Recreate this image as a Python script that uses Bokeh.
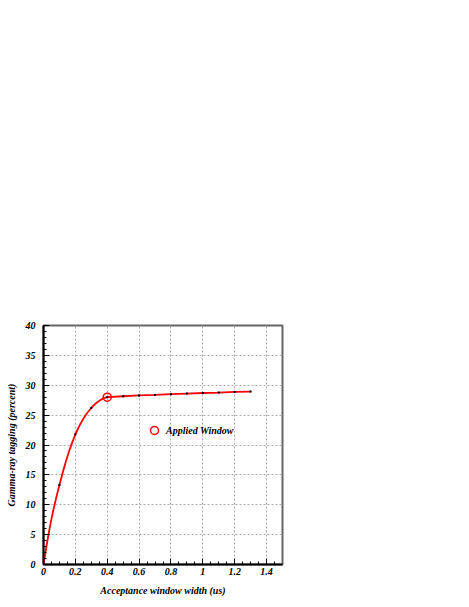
from bokeh.plotting import figure
from bokeh.models import Range1d, SingleIntervalTicker, CustomJSTickFormatter, Legend, LegendItem
from bokeh.embed import file_html
from bokeh.resources import INLINE

# Smooth curve
curve_x = [0.0, 0.02, 0.04, 0.06, 0.08, 0.1, 0.12, 0.14, 0.16, 0.18, 0.2, 0.225, 0.25, 0.275,
           0.3, 0.325, 0.35, 0.375, 0.4,
           0.5, 0.6, 0.7, 0.8, 0.9, 1.0, 1.1, 1.2, 1.3]
curve_y = [0.0, 3.3, 6.3, 8.9, 11.2, 13.3, 15.3, 17.2, 18.9, 20.4, 21.8, 23.2, 24.4, 25.4,
           26.2, 26.9, 27.4, 27.8, 28.0,
           28.16, 28.3, 28.38, 28.5, 28.6, 28.7, 28.77, 28.88, 28.94]

# Measured points
point_x = [0.1, 0.2, 0.3, 0.4, 0.5, 0.6, 0.7, 0.8, 0.9, 1.0, 1.1, 1.2, 1.3]
point_y = [13.3, 21.8, 26.2, 28.0, 28.16, 28.3, 28.38, 28.5, 28.6, 28.7, 28.77, 28.88, 28.94]

# Applied window
applied_x = [0.4]
applied_y = [28.0]
legend_label = "Applied Window"

x_label = "Acceptance window width (us)"
y_label = "Gamma-ray tagging (percent)"

FONT = "Liberation Serif"

p = figure(output_backend="svg", toolbar_location=None,
           x_range=Range1d(0, 1.5), y_range=Range1d(0, 40),
           frame_width=239, frame_height=239,
           min_border_left=43, min_border_top=325, min_border_right=15, min_border_bottom=36,
           background_fill_color="white", border_fill_color="white")

p.outline_line_color = "#666666"
p.outline_line_width = 2

# axes
p.xaxis.ticker = SingleIntervalTicker(interval=0.2, num_minor_ticks=4)
p.yaxis.ticker = SingleIntervalTicker(interval=5, num_minor_ticks=5)
p.xaxis.formatter = CustomJSTickFormatter(code="return String(Math.round(tick*10)/10);")

for ax in (p.xaxis[0], p.yaxis[0]):
    ax.axis_line_color = "black"
    ax.axis_line_width = 2
    ax.major_tick_in = 6
    ax.major_tick_out = 0
    ax.minor_tick_in = 3
    ax.minor_tick_out = 0
    ax.major_tick_line_color = "black"
    ax.minor_tick_line_color = "black"
    ax.major_label_text_font = FONT
    ax.major_label_text_font_style = "bold italic"
    ax.major_label_text_font_size = "10px"
    ax.major_label_text_color = "black"
    ax.axis_label_text_font = FONT
    ax.axis_label_text_font_style = "bold italic"
    ax.axis_label_text_font_size = "10px"
    ax.axis_label_text_color = "black"

p.xaxis.axis_label = x_label
p.yaxis.axis_label = y_label
p.xaxis.major_label_standoff = 3
p.xaxis.axis_label_standoff = 7
p.yaxis.major_label_standoff = 8
p.yaxis.axis_label_standoff = 6

p.grid.grid_line_color = "#aaaaaa"
p.grid.grid_line_dash = "2 2"
p.grid.grid_line_width = 1

# data
p.line(curve_x, curve_y, line_color="red", line_width=1.8)
p.scatter(point_x, point_y, marker="square", size=2, fill_color="black", line_color=None)
applied = p.scatter(applied_x, applied_y, marker="circle", size=8, fill_color=None,
                    line_color="red", line_width=1.5)

legend = Legend(items=[LegendItem(label=legend_label, renderers=[applied])],
                location=(101, 124), padding=0, margin=0, spacing=0,
                glyph_width=20, glyph_height=20, label_height=20, label_standoff=2,
                border_line_color=None, background_fill_alpha=0,
                label_text_font=FONT, label_text_font_style="bold italic",
                label_text_font_size="10px", label_text_color="black")
p.add_layout(legend)

open("out.html", "w").write(file_html(p, INLINE))
